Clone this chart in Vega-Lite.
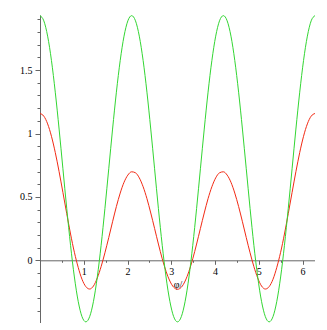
{
  "$schema": "https://vega.github.io/schema/vega-lite/v6.json",
  "autosize": "none",
  "padding": {"left": 40, "top": 15, "right": 0, "bottom": 0},
  "width": 275,
  "height": 308,
  "background": "white",
  "config": {"view": {"stroke": null}},
  "data": {"values": [
    {"x":0,"r":1.158,"g":1.930},{"x":0.0873,"r":1.137,"g":1.889},{"x":0.1745,"r":1.076,"g":1.768},{"x":0.2618,"r":0.978,"g":1.576},
    {"x":0.3491,"r":0.850,"g":1.326},{"x":0.4363,"r":0.699,"g":1.035},{"x":0.5236,"r":0.535,"g":0.722},{"x":0.6109,"r":0.368,"g":0.409},
    {"x":0.6981,"r":0.207,"g":0.118},{"x":0.7854,"r":0.063,"g":-0.132},{"x":0.8727,"r":-0.056,"g":-0.324},{"x":0.9599,"r":-0.150,"g":-0.445},
    {"x":1.0472,"r":-0.208,"g":-0.486},{"x":1.1345,"r":-0.227,"g":-0.445},{"x":1.2217,"r":-0.203,"g":-0.324},{"x":1.309,"r":-0.140,"g":-0.132},
    {"x":1.3963,"r":-0.050,"g":0.118},{"x":1.4835,"r":0.059,"g":0.409},{"x":1.5708,"r":0.179,"g":0.722},{"x":1.6581,"r":0.304,"g":1.035},
    {"x":1.7453,"r":0.424,"g":1.326},{"x":1.8326,"r":0.530,"g":1.576},{"x":1.9199,"r":0.615,"g":1.768},{"x":2.0071,"r":0.672,"g":1.889},
    {"x":2.0944,"r":0.698,"g":1.930},{"x":2.1817,"r":0.690,"g":1.889},{"x":2.2689,"r":0.650,"g":1.768},{"x":2.3562,"r":0.580,"g":1.576},
    {"x":2.4435,"r":0.486,"g":1.326},{"x":2.5307,"r":0.373,"g":1.035},{"x":2.618,"r":0.251,"g":0.722},{"x":2.7053,"r":0.128,"g":0.409},
    {"x":2.7925,"r":0.012,"g":0.118},{"x":2.8798,"r":-0.087,"g":-0.132},{"x":2.9671,"r":-0.164,"g":-0.324},{"x":3.0543,"r":-0.213,"g":-0.445},
    {"x":3.1416,"r":-0.229,"g":-0.486},{"x":3.2289,"r":-0.213,"g":-0.445},{"x":3.3161,"r":-0.164,"g":-0.324},{"x":3.4034,"r":-0.087,"g":-0.132},
    {"x":3.4907,"r":0.012,"g":0.118},{"x":3.5779,"r":0.128,"g":0.409},{"x":3.6652,"r":0.251,"g":0.722},{"x":3.7525,"r":0.373,"g":1.035},
    {"x":3.8397,"r":0.486,"g":1.326},{"x":3.927,"r":0.580,"g":1.576},{"x":4.0143,"r":0.650,"g":1.768},{"x":4.1015,"r":0.690,"g":1.889},
    {"x":4.1888,"r":0.698,"g":1.930},{"x":4.2761,"r":0.672,"g":1.889},{"x":4.3633,"r":0.615,"g":1.768},{"x":4.4506,"r":0.530,"g":1.576},
    {"x":4.5379,"r":0.424,"g":1.326},{"x":4.6251,"r":0.304,"g":1.035},{"x":4.7124,"r":0.179,"g":0.722},{"x":4.7997,"r":0.059,"g":0.409},
    {"x":4.8869,"r":-0.050,"g":0.118},{"x":4.9742,"r":-0.140,"g":-0.132},{"x":5.0615,"r":-0.203,"g":-0.324},{"x":5.1487,"r":-0.227,"g":-0.445},
    {"x":5.236,"r":-0.208,"g":-0.486},{"x":5.3233,"r":-0.150,"g":-0.445},{"x":5.4105,"r":-0.056,"g":-0.324},{"x":5.4978,"r":0.063,"g":-0.132},
    {"x":5.5851,"r":0.207,"g":0.118},{"x":5.6723,"r":0.368,"g":0.409},{"x":5.7596,"r":0.535,"g":0.722},{"x":5.8469,"r":0.699,"g":1.035},
    {"x":5.9341,"r":0.850,"g":1.326},{"x":6.0214,"r":0.978,"g":1.576},{"x":6.1087,"r":1.076,"g":1.768},{"x":6.1959,"r":1.137,"g":1.889},
    {"x":6.2832,"r":1.158,"g":1.930}
  ]},
  "transform": [{"fold": ["r", "g"], "as": ["series", "value"]}],
  "mark": {"type": "line", "strokeWidth": 1, "interpolate": "monotone", "clip": true},
  "encoding": {
    "x": {
      "field": "x", "type": "quantitative",
      "scale": {"domain": [0, 6.2832], "nice": false, "zero": false},
      "axis": {
        "orient": "bottom",
        "offset": -62.7,
        "title": "φ/",
        "titleFont": "Liberation Serif",
        "titleFontSize": 10,
        "titleFontWeight": "normal",
        "titleColor": "black",
        "titlePadding": 3,
        "values": [0.5, 1, 1.5, 2, 2.5, 3, 3.5, 4, 4.5, 5, 5.5, 6],
        "labelExpr": "datum.value % 1 === 0 ? datum.label : ''",
        "format": "~g",
        "labelFont": "Liberation Serif",
        "labelFontSize": 10,
        "labelColor": "black",
        "labelPadding": 2,
        "tickSize": {"condition": {"test": "datum.value % 1 === 0", "value": 4}, "value": 2},
        "tickColor": "#666666",
        "domainColor": "#666666",
        "grid": false,
        "labelOverlap": false,
        "labelFlush": false
      }
    },
    "y": {
      "field": "value", "type": "quantitative",
      "scale": {"domain": [-0.495, 1.935], "nice": false, "zero": false},
      "axis": {
        "orient": "left",
        "title": null,
        "values": [-0.4, -0.3, -0.2, -0.1, 0, 0.1, 0.2, 0.3, 0.4, 0.5, 0.6, 0.7, 0.8, 0.9, 1, 1.1, 1.2, 1.3, 1.4, 1.5, 1.6, 1.7, 1.8, 1.9],
        "format": "~g",
        "labelExpr": "abs(datum.value * 2 - round(datum.value * 2)) < 0.000001 ? datum.label : ''",
        "labelFont": "Liberation Serif",
        "labelFontSize": 10,
        "labelColor": "black",
        "labelPadding": 3,
        "tickSize": {"condition": {"test": "abs(datum.value * 2 - round(datum.value * 2)) < 0.000001", "value": 5}, "value": 3},
        "tickColor": "#666666",
        "domainColor": "#666666",
        "grid": false,
        "labelOverlap": false,
        "labelFlush": false
      }
    },
    "color": {
      "field": "series", "type": "nominal",
      "scale": {"domain": ["r", "g"], "range": ["#f22a14", "#33d633"]},
      "legend": null
    }
  }
}
